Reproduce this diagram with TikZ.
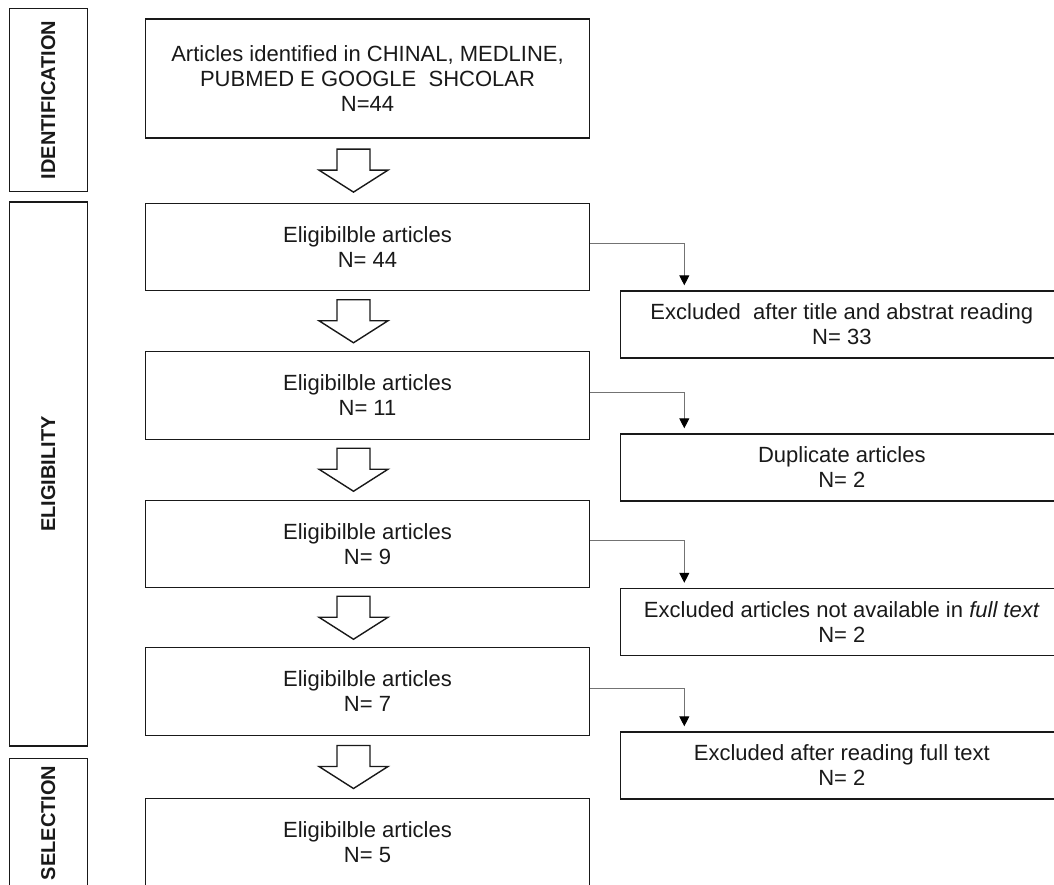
\documentclass[tikz,border=0pt]{standalone}
\usepackage{fontspec}
\setmainfont{Liberation Sans}
\usetikzlibrary{arrows.meta,calc}
\begin{document}
\begin{tikzpicture}[x=1pt,y=-1pt,
  box/.style={draw=black!90, line width=1.4pt, rectangle, align=center, inner sep=0pt,
    text=black!90, font=\fontsize{22}{25}\selectfont},
  mainbox/.style={box, minimum width=443.6pt, minimum height=87.5pt},
  sidebox/.style={box, minimum width=442.3pt, minimum height=67pt},
  lab/.style={box, minimum height=78pt, rotate=90, font=\bfseries\fontsize{20}{24}\selectfont},
  conn/.style={draw=black!55, line width=1pt, -{Triangle[width=10pt,length=10pt,color=black]}, shorten >=5pt},
  blockarr/.pic={\draw[draw=black!90, line width=1.4pt, fill=white, line join=miter]
    (-16.5,-21.5) -- (16.5,-21.5) -- (16.5,-0.5) -- (34.5,-0.5) -- (0,21.5)
    -- (-34.5,-0.5) -- (-16.5,-0.5) -- cycle;}
]
\useasboundingbox (0,0) rectangle (1054,885);
\clip (0,0) rectangle (1054,885);

% main column
\node[mainbox, minimum height=119pt] (m1) at (367.5,78.5)
  {Articles identified in CHINAL, MEDLINE,\\PUBMED E GOOGLE\ \ SHCOLAR\\N=44};
\node[mainbox] (m2) at (367.5,247) {Eligibilble articles\\N= 44};
\node[mainbox] (m3) at (367.5,395.5) {Eligibilble articles\\N= 11};
\node[mainbox] (m4) at (367.5,544) {Eligibilble articles\\N= 9};
\node[mainbox] (m5) at (367.5,691.5) {Eligibilble articles\\N= 7};
\node[mainbox] (m6) at (367.5,842.5) {Eligibilble articles\\N= 5};

% side column
\node[sidebox] (r1) at (841.85,324.5) {Excluded\ \ after title and abstrat reading\\N= 33};
\node[sidebox] (r2) at (841.85,467.5) {Duplicate articles\\N= 2};
\node[sidebox] (r3) at (841.85,622) {Excluded articles not available in \textit{full text}\\N= 2};
\node[sidebox] (r4) at (841.85,765.5) {Excluded after reading full text\\N= 2};

% phase labels
\node[lab, minimum width=183.4pt] (l1) at (48.3,100) {IDENTIFICATION};
\node[lab, minimum width=544.3pt] (l2) at (48.3,474) {ELIGIBILITY};
\node[lab, minimum width=128.4pt] (l3) at (48.3,822.8) {SELECTION};

% block arrows
\foreach \a/\b in {m1/m2, m2/m3, m3/m4, m4/m5, m5/m6}
  \pic at ($(\a.south)!0.5!(\b.north)+(-14,0)$) {blockarr};

% side connectors
\foreach \a/\b in {m2/r1, m3/r2, m4/r3, m5/r4}
  \draw[conn] ([yshift=3.5pt]\a.east) -| ([xshift=64.3pt]\b.north west);
\end{tikzpicture}
\end{document}
